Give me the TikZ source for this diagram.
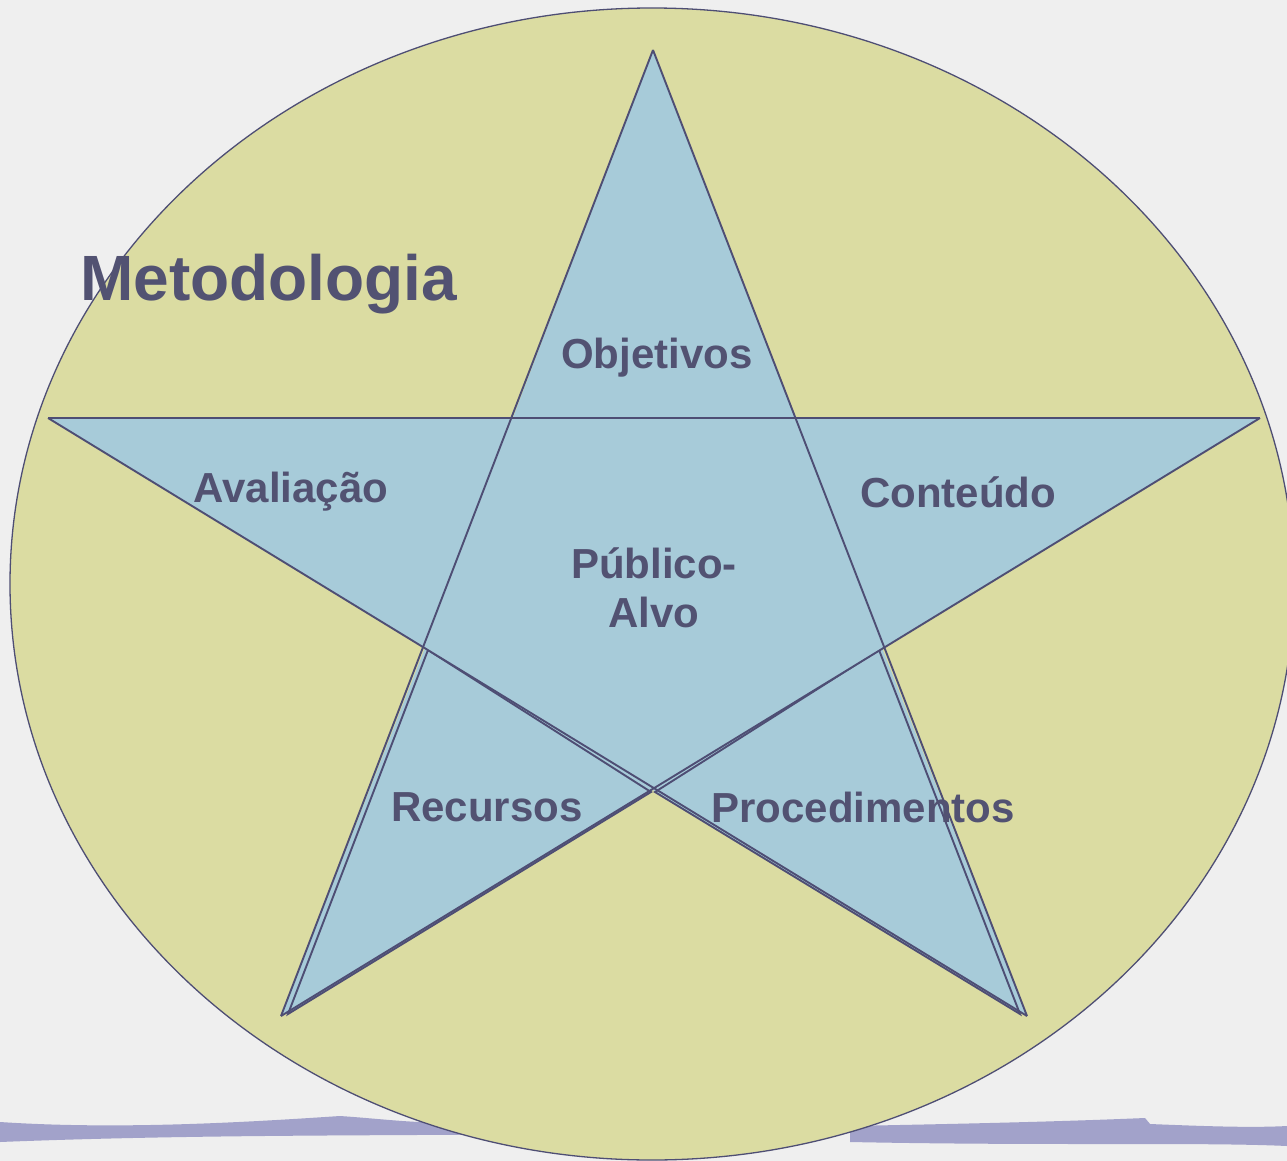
\documentclass[tikz,border=0pt]{standalone}
\usepackage{fontspec}
\usetikzlibrary{shapes.geometric}
\setmainfont{Liberation Sans}
\definecolor{bgc}{HTML}{EFEFEF}
\definecolor{olive}{HTML}{DBDCA2}
\definecolor{starblue}{HTML}{A7CBD9}
\definecolor{edge}{HTML}{4E4E74}
\definecolor{txt}{HTML}{525272}
\definecolor{brush}{HTML}{A2A2CA}
\tikzset{
  lbl/.style={text=txt, font=\fontsize{42}{46}\selectfont\bfseries, inner sep=0pt, align=center},
  ttl/.style={text=txt, font=\fontsize{64}{68}\selectfont\bfseries, inner sep=0pt},
  staredge/.style={draw=edge, line width=1.9pt, line join=miter},
  innerline/.style={draw=edge, line width=1.4pt}
}
\begin{document}
\begin{tikzpicture}[x=1pt,y=-1pt]
\useasboundingbox (0,0) rectangle (1287,1161);
\fill[bgc] (0,0) rectangle (1287,1161);
% brush stroke
\fill[brush] (0,1122) .. controls (120,1130) and (250,1122) .. (340,1116)
  .. controls (400,1120) and (440,1128) .. (530,1118) -- (530,1134)
  .. controls (400,1136) and (200,1134) .. (0,1142) -- cycle;
\fill[brush] (850,1126) .. controls (950,1124) and (1050,1122) .. (1145,1118)
  -- (1150,1124) .. controls (1200,1126) and (1250,1128) .. (1287,1126)
  -- (1287,1146) .. controls (1200,1142) and (1050,1146) .. (850,1142) -- cycle;
% ellipse
\node[draw=edge, fill=olive, line width=1.3pt, shape=ellipse, minimum width=1284pt, minimum height=1152pt, inner sep=0pt] (ell) at (652,584) {};
% star points
\coordinate (T) at (653,50);
\coordinate (L) at (48,418);
\coordinate (R) at (1260,418);
\coordinate (BL) at (281,1016);
\coordinate (BR) at (1027,1016);
\coordinate (iTL) at (513,418);
\coordinate (iTR) at (795,418);
\coordinate (iL) at (425,648);
\coordinate (iR) at (882,648);
\coordinate (iB) at (653,790);
\fill[starblue] (T) -- (iTR) -- (R) -- (iR) -- (BR) -- (iB) -- (BL) -- (iL) -- (L) -- (iTL) -- cycle;
% offset tips (double edges)
\coordinate (BL2) at (288,1014);
\coordinate (BR2) at (1020,1014);
\filldraw[fill=starblue, staredge] (428,650) -- (651,792) -- (BL2) -- cycle;
\filldraw[fill=starblue, staredge] (879,650) -- (655,792) -- (BR2) -- cycle;
\fill[starblue] (T) -- (iTR) -- (R) -- (iR) -- (iB) -- (iL) -- (L) -- (iTL) -- cycle;
% star lines
\draw[staredge] (T) -- (BL);
\draw[staredge] (T) -- (BR);
\draw[staredge] (L) -- (R);
\draw[staredge] (L) -- (BR);
\draw[staredge] (R) -- (BL);
% labels
\node[ttl, anchor=base west] (met) at (80,300) {Metodologia};
\node[lbl] (obj) at (657,358) {Objetivos};
\node[lbl] (ava) at (291,492) {Avaliação};
\node[lbl] (con) at (958,492) {Conteúdo};
\node[lbl, anchor=base] (pub) at (654,578) {Público-};
\node[lbl, anchor=base] (alvo) at (654,627) {Alvo};
\node[lbl] (rec) at (487,807) {Recursos};
\node[lbl] (pro) at (863,807) {Procedimentos};
\end{tikzpicture}
\end{document}
